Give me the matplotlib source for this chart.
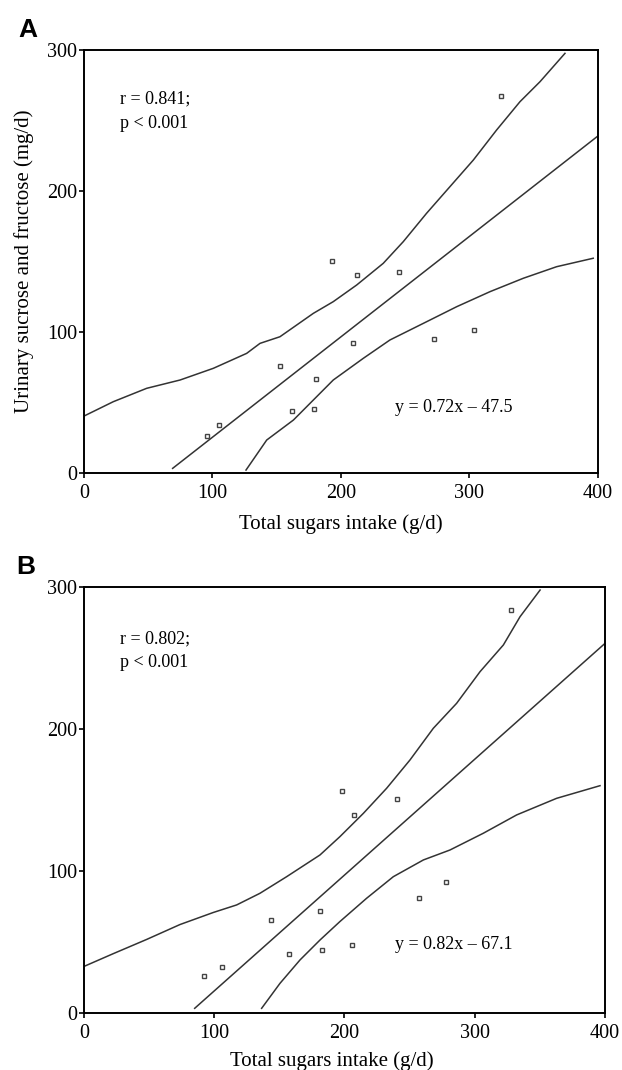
import matplotlib
matplotlib.use("Agg")
import matplotlib.pyplot as plt

# ---------------------
# --- Data section ---
# ---------------------

# panel A: urinary sugars vs total sugars intake
a_x = [95.5, 105.3, 152.5, 162.1, 179.0, 180.3, 193.0, 209.1, 212.2, 245.4, 272.1, 303.8, 324.8]
a_y = [26.0, 33.6, 75.5, 43.8, 45.2, 66.5, 150.5, 92.0, 140.3, 142.7, 94.7, 101.0, 267.4]
a_fit_x = [69, 400]
a_fit_y = [3.1, 239.0]
a_upper_x = [0, 22.8, 48.8, 74.8, 100.7, 126.6, 137, 152.5, 178.5, 194, 212.2, 232.9, 248.5,
             266.6, 284.8, 303, 321.1, 339.3, 354.9, 374.3]
a_upper_y = [40.2, 50.4, 59.9, 65.8, 74.1, 84.7, 91.8, 96.5, 113.1, 121.4, 133.2, 148.6, 164,
             184.1, 203, 221.9, 243.2, 263.3, 277.5, 297.6]
a_lower_x = [126.1, 142.2, 163, 178.5, 194, 217.4, 238.1, 264.1, 290, 316, 341.9, 367.8, 396.3]
a_lower_y = [1.9, 23.2, 37.4, 51.6, 65.8, 81.2, 94.2, 106, 117.8, 128.5, 138, 146.2, 152.2]
a_stats = ["r = 0.841;", "p < 0.001"]
a_eq = "y = 0.72x \u2013 47.5"

# panel B
b_x = [92.1, 106.2, 143.6, 157.4, 181.0, 182.5, 198.0, 206.0, 207.3, 240.6, 257.2, 278.2, 328.0]
b_y = [26.3, 32.9, 65.7, 41.5, 72.3, 44.4, 156.3, 48.1, 139.7, 151.2, 81.2, 92.5, 283.8]
b_fit_x = [85, 400]
b_fit_y = [3.5, 260.5]
b_upper_x = [0, 22.5, 48.1, 73.7, 99.3, 117.2, 135.1, 155.6, 181.2, 196.5, 214.5, 232.4, 250.3,
             268.2, 286.1, 304.1, 322, 334.8, 350.2]
b_upper_y = [33.0, 42.0, 52.0, 62.5, 71.0, 76.3, 84.5, 96.2, 111.5, 124.4, 140.8, 158.5, 178.4,
             200.7, 218.3, 240.6, 259.4, 279.3, 298.1]
b_lower_x = [136.4, 150.5, 165.9, 181.2, 196.5, 217, 237.5, 260.6, 281, 306.6, 332.2, 362.9, 396.2]
b_lower_y = [3.5, 21.1, 37.6, 51.6, 64.6, 81, 96.2, 108, 115, 126.8, 139.7, 151.4, 160.3]
b_stats = ["r = 0.802;", "p < 0.001"]
b_eq = "y = 0.82x \u2013 67.1"

x_ticks = [0, 100, 200, 300, 400]
y_ticks = [0, 100, 200, 300]
x_label = "Total sugars intake (g/d)"
y_label = "Urinary sucrose and fructose (mg/d)"

# ----------------
# --- Plotting ---
# ----------------

plt.rcParams['font.family'] = ['Liberation Serif', 'DejaVu Serif']
line_col = '#333333'

fig = plt.figure(figsize=(6.22, 10.70), dpi=100)
ax_a = fig.add_axes([0.1350, 0.5582, 0.8264, 0.3951])
ax_b = fig.add_axes([0.1350, 0.0530, 0.8376, 0.3981])


def draw_panel(ax, xs, ys, fit_x, fit_y, up_x, up_y, lo_x, lo_y, stats, stats_y, eq, eq_xy):
    ax.plot(up_x, up_y, color=line_col, lw=1.1)
    ax.plot(lo_x, lo_y, color=line_col, lw=1.1)
    ax.plot(fit_x, fit_y, color=line_col, lw=1.1)
    ax.plot(xs, ys, linestyle='none', marker='s', markersize=3.4, markerfacecolor='white',
            markeredgecolor='#444444', markeredgewidth=1.0)
    ax.set_xlim(0, 400)
    ax.set_ylim(0, 300)
    ax.set_xticks(x_ticks)
    ax.set_yticks(y_ticks)
    ax.tick_params(direction='out', length=3.5, width=1.2, labelsize=14.5)
    ax.tick_params(axis='x', pad=4.5)
    ax.tick_params(axis='y', pad=1.5)
    for s in ax.spines.values():
        s.set_linewidth(1.4)
    ax.text(28, stats_y[0], stats[0], fontsize=13, va='baseline', ha='left')
    ax.text(28, stats_y[1], stats[1], fontsize=13, va='baseline', ha='left')
    ax.text(eq_xy[0], eq_xy[1], eq, fontsize=13, va='baseline', ha='left')


draw_panel(ax_a, a_x, a_y, a_fit_x, a_fit_y, a_upper_x, a_upper_y, a_lower_x, a_lower_y,
           a_stats, [262.2, 244.4], a_eq, [242, 43.3])
draw_panel(ax_b, b_x, b_y, b_fit_x, b_fit_y, b_upper_x, b_upper_y, b_lower_x, b_lower_y,
           b_stats, [260.6, 243.7], b_eq, [238.8, 45.1])

ax_a.set_xlabel(x_label, fontsize=15)
ax_a.xaxis.set_label_coords(0.5, -0.098)
ax_a.set_ylabel(y_label, fontsize=15)
ax_a.yaxis.set_label_coords(-0.097, 0.5)

ax_b.set_xlabel(x_label, fontsize=15)
ax_b.xaxis.set_label_coords(0.476, -0.090)

# panel letters
fig.text(18 / 622, 1 - 37.3 / 1070, "A", fontsize=19, fontweight='bold',
         family=['Liberation Sans', 'DejaVu Sans'], va='baseline', ha='left')
fig.text(16 / 622, 1 - 574 / 1070, "B", fontsize=19, fontweight='bold',
         family=['Liberation Sans', 'DejaVu Sans'], va='baseline', ha='left')

plt.savefig("out.png", dpi=100)
